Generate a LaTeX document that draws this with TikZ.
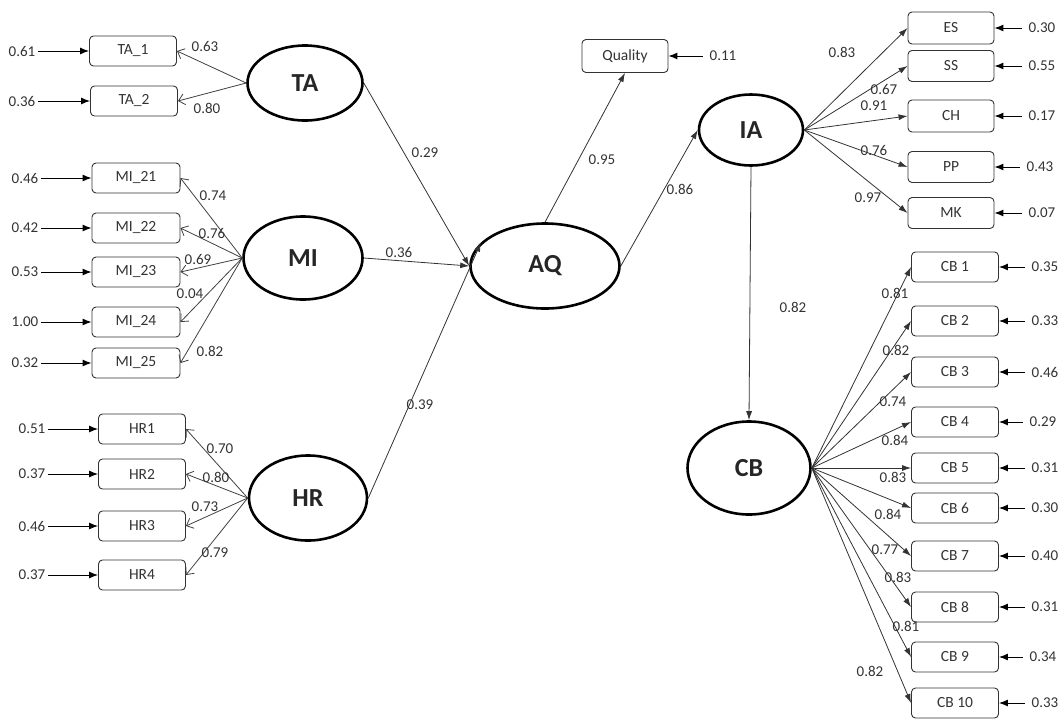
\documentclass[tikz,border=0pt]{standalone}
\usepackage{fontspec}
\setmainfont{Carlito}
\usetikzlibrary{shapes.geometric,arrows.meta}
\begin{document}
\begin{tikzpicture}[x=1pt,y=-1pt,
 lat/.style={ellipse,draw=black,line width=2.6pt,inner sep=0pt,font=\fontsize{26}{28}\selectfont\bfseries,text=black!85},
 obs/.style={draw=black!80,rounded corners=4pt,line width=0.9pt,inner sep=0pt,minimum width=87pt,minimum height=30pt,font=\fontsize{15.5}{17}\selectfont,text=black!80},
 lbl/.style={inner sep=1pt,font=\fontsize{15}{17}\selectfont,text=black!80},
 ind/.style={draw=black!75,line width=0.8pt,-{Straight Barb[length=6pt,width=11pt]}},
 pth/.style={draw=black!80,line width=0.8pt,-{Latex[length=9pt,width=6pt]}},
 err/.style={draw=black,line width=1pt,-{Latex[length=9pt,width=7pt]}}]
\useasboundingbox (0,0) rectangle (1063,718);
% latent variables
\node[lat,minimum width=115pt,minimum height=75pt] (TA) at (305,83) {TA};
\node[lat,minimum width=119pt,minimum height=83pt] (MI) at (303,258) {MI};
\node[lat,minimum width=118pt,minimum height=85pt] (HR) at (308,498) {HR};
\node[lat,minimum width=149pt,minimum height=85pt] (AQ) at (545,266) {AQ};
\node[lat,minimum width=104pt,minimum height=71pt] (IA) at (751,130) {IA};
\node[lat,minimum width=123pt,minimum height=93pt] (CB) at (749,468) {CB};
% left indicators
\node[obs] (TA1) at (133,51) {TA\_1};
\node[obs] (TA2) at (134,101) {TA\_2};
\node[obs,minimum width=88pt] (MI21) at (136,178) {MI\_21};
\node[obs,minimum width=88pt] (MI22) at (136,228) {MI\_22};
\node[obs,minimum width=88pt] (MI23) at (136,272) {MI\_23};
\node[obs,minimum width=88pt] (MI24) at (136,322) {MI\_24};
\node[obs,minimum width=88pt] (MI25) at (136,363) {MI\_25};
\node[obs] (HR1) at (142,429) {HR1};
\node[obs] (HR2) at (142,474) {HR2};
\node[obs] (HR3) at (142,526) {HR3};
\node[obs] (HR4) at (142,575) {HR4};
% quality
\node[obs,minimum width=86pt,minimum height=33pt] (Q) at (625,56) {Quality};
% IA indicators
\node[obs,minimum width=86pt,minimum height=32pt] (ES) at (951,28) {ES};
\node[obs,minimum width=86pt,minimum height=31pt] (SS) at (951,66) {SS};
\node[obs,minimum width=86pt,minimum height=32pt] (CH) at (951,116) {CH};
\node[obs,minimum width=86pt,minimum height=31pt] (PP) at (951,167) {PP};
\node[obs,minimum width=86pt,minimum height=31pt] (MK) at (951,213) {MK};
% CB indicators
\node[obs] (CB1) at (955,267) {CB 1};
\node[obs] (CB2) at (955,321) {CB 2};
\node[obs] (CB3) at (955,372) {CB 3};
\node[obs] (CB4) at (955,422) {CB 4};
\node[obs] (CB5) at (955,468) {CB 5};
\node[obs] (CB6) at (955,508) {CB 6};
\node[obs] (CB7) at (955,556) {CB 7};
\node[obs] (CB8) at (955,607) {CB 8};
\node[obs] (CB9) at (955,657) {CB 9};
\node[obs] (CB10) at (955,703) {CB 10};
% error terms left
\node[lbl] (eTA1) at (22,51) {0.61};
\node[lbl] (eTA2) at (22,101) {0.36};
\node[lbl] (eMI21) at (25,178) {0.46};
\node[lbl] (eMI22) at (25,228) {0.42};
\node[lbl] (eMI23) at (25,272) {0.53};
\node[lbl] (eMI24) at (25,322) {1.00};
\node[lbl] (eMI25) at (25,363) {0.32};
\node[lbl] (eHR1) at (32,429) {0.51};
\node[lbl] (eHR2) at (32,474) {0.37};
\node[lbl] (eHR3) at (32,526) {0.46};
\node[lbl] (eHR4) at (32,575) {0.37};
\foreach \n in {TA1,TA2,MI21,MI22,MI23,MI24,MI25,HR1,HR2,HR3,HR4}
  \draw[err,shorten <=2pt] (e\n.east) -- (\n.west);
% error terms right
\node[lbl] (eQ) at (723,56) {0.11};
\node[lbl] (eES) at (1042,28) {0.30};
\node[lbl] (eSS) at (1042,66) {0.55};
\node[lbl] (eCH) at (1042,116) {0.17};
\node[lbl] (ePP) at (1040,167) {0.43};
\node[lbl] (eMK) at (1042,213) {0.07};
\node[lbl] (eCB1) at (1045,267) {0.35};
\node[lbl] (eCB2) at (1045,321) {0.33};
\node[lbl] (eCB3) at (1045,372) {0.46};
\node[lbl] (eCB4) at (1043,422) {0.29};
\node[lbl] (eCB5) at (1045,468) {0.31};
\node[lbl] (eCB6) at (1045,508) {0.30};
\node[lbl] (eCB7) at (1045,556) {0.40};
\node[lbl] (eCB8) at (1045,607) {0.31};
\node[lbl] (eCB9) at (1043,657) {0.34};
\node[lbl] (eCB10) at (1045,703) {0.33};
\foreach \n in {Q,ES,SS,CH,PP,MK,CB1,CB2,CB3,CB4,CB5,CB6,CB7,CB8,CB9,CB10}
  \draw[err,shorten <=6pt] (e\n.west) -- (\n.east);
% measurement paths (left)
\draw[ind] (TA.west) -- (TA1.east);
\draw[ind] (TA.west) -- (TA2.east);
\foreach \n in {MI21,MI22,MI23,MI24,MI25} \draw[ind] (MI.west) -- (\n.east);
\foreach \n in {HR1,HR2,HR3,HR4} \draw[ind] (HR.west) -- (\n.east);
% measurement paths (right)
\foreach \n in {ES,SS,CH,PP,MK} \draw[pth] (IA.east) -- (\n.west);
\foreach \n in {CB1,CB2,CB3,CB4,CB5,CB6,CB7,CB8,CB9,CB10} \draw[pth] (CB.east) -- (\n.west);
% structural paths
\draw[pth] (TA.east) -- (AQ.west);
\draw[pth] (MI.east) -- (AQ.west);
\draw[pth] (HR.east) -- (AQ.160);
\draw[pth] (AQ.north) -- (Q.south);
\draw[pth] (AQ.east) -- (IA.west);
\draw[pth] (IA.south) -- (CB.north);
% loadings
\node[lbl] (lTA1) at (205,46) {0.63};
\node[lbl] (lTA2) at (207,108) {0.80};
\node[lbl] (lMI21) at (213,196) {0.74};
\node[lbl] (lMI22) at (212,233) {0.76};
\node[lbl] (lMI23) at (198,259) {0.69};
\node[lbl] (lMI24) at (190,294) {0.04};
\node[lbl] (lMI25) at (210,351) {0.82};
\node[lbl] (lHR1) at (220,449) {0.70};
\node[lbl] (lHR2) at (216,477) {0.80};
\node[lbl] (lHR3) at (205,507) {0.73};
\node[lbl] (lHR4) at (215,553) {0.79};
\node[lbl] (lTAAQ) at (425,153) {0.29};
\node[lbl] (lMIAQ) at (399,252) {0.36};
\node[lbl] (lHRAQ) at (420,405) {0.39};
\node[lbl] (lAQQ) at (602,160) {0.95};
\node[lbl] (lAQIA) at (680,189) {0.86};
\node[lbl] (lIACB) at (793,307) {0.82};
\node[lbl] (lES) at (842,52) {0.83};
\node[lbl] (lSS) at (884,89) {0.67};
\node[lbl] (lCH) at (874,106) {0.91};
\node[lbl] (lPP) at (874,150) {0.76};
\node[lbl] (lMK) at (868,198) {0.97};
\node[lbl] (lCB1) at (895,293) {0.81};
\node[lbl] (lCB2) at (896,350) {0.82};
\node[lbl] (lCB3) at (893,402) {0.74};
\node[lbl] (lCB4) at (895,440) {0.84};
\node[lbl] (lCB5) at (893,477) {0.83};
\node[lbl] (lCB6) at (888,514) {0.84};
\node[lbl] (lCB7) at (885,550) {0.77};
\node[lbl] (lCB8) at (898,577) {0.83};
\node[lbl] (lCB9) at (906,626) {0.81};
\node[lbl] (lCB10) at (870,671) {0.82};
\end{tikzpicture}
\end{document}
